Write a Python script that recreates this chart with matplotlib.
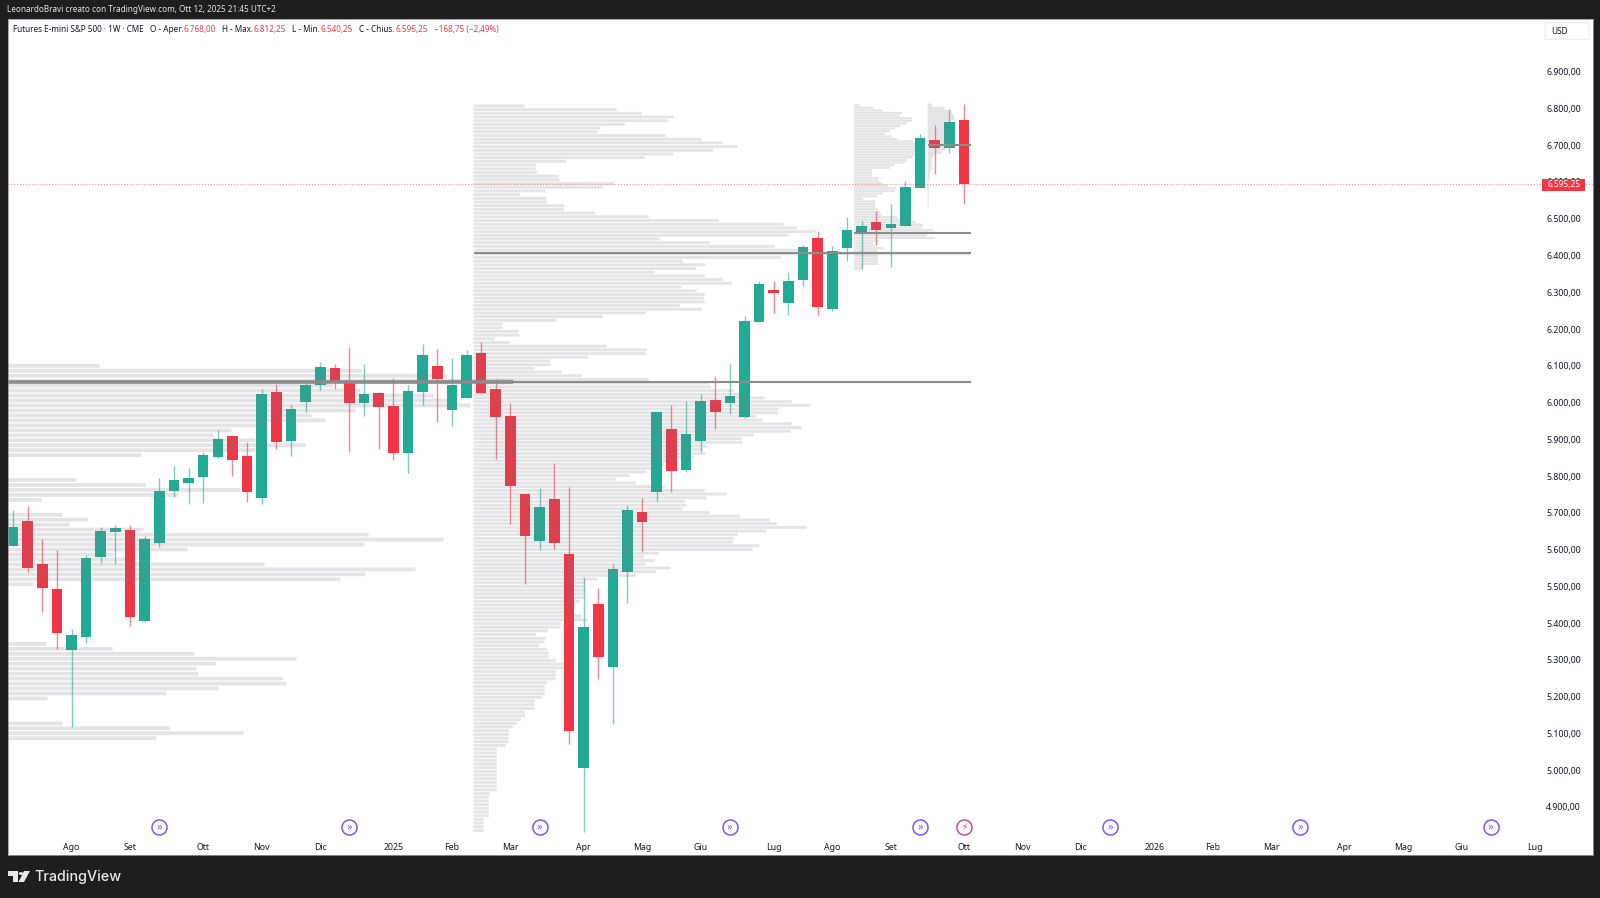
import numpy as np
import matplotlib
matplotlib.use("Agg")
import matplotlib.pyplot as plt
from matplotlib.patches import Polygon, Rectangle, Circle, FancyBboxPatch
from matplotlib.ticker import FuncFormatter

plt.rcParams['font.family'] = ['Noto Sans', 'DejaVu Sans']

# weekly candles
opens = [5610, 5679, 5562, 5494, 5326, 5361, 5580, 5649, 5654, 5407, 5619, 5760, 5781, 5798, 5853, 5908, 5855,
         5739, 6028, 5896, 6002, 6048, 6093, 6054, 5999, 6027, 5991, 5862, 6029, 6099, 5980, 6013, 6136, 6038,
         5964, 5751, 5623, 5738, 5588, 5005, 5451, 5280, 5539, 5703, 5758, 5928, 5817, 5896, 6007, 5999, 5960,
         6220, 6306, 6270, 6333, 6447, 6254, 6421, 6462, 6491, 6476, 6480, 6585, 6714, 6693, 6768]
highs = [5707, 5718, 5628, 5599, 5383, 5584, 5662, 5666, 5668, 5638, 5795, 5828, 5821, 5866, 5925, 5913, 5892,
         6038, 6050, 5992, 6052, 6109, 6104, 6150, 6105, 6030, 6066, 6048, 6159, 6146, 6120, 6143, 6165, 6063,
         5998, 5755, 5768, 5836, 5770, 5525, 5495, 5561, 5722, 5739, 5974, 5993, 6005, 6023, 6072, 6106, 6236,
         6330, 6332, 6356, 6428, 6466, 6425, 6505, 6494, 6522, 6540, 6604, 6730, 6755, 6798, 6812.25]
lows = [5610, 5540, 5431, 5330, 5118, 5346, 5564, 5560, 5392, 5404, 5608, 5744, 5723, 5726, 5848, 5800, 5730,
        5723, 5875, 5854, 5975, 6035, 6038, 5866, 5964, 5873, 5845, 5809, 5993, 5948, 5935, 6013, 6025, 5846,
        5670, 5507, 5598, 5602, 5072, 4831, 5249, 5126, 5454, 5593, 5733, 5756, 5812, 5866, 5927, 5968, 5957,
        6220, 6244, 6239, 6318, 6239, 6250, 6385, 6362, 6428, 6369, 6480, 6585, 6622, 6678, 6540.25]
closes = [5662, 5550, 5496, 5373, 5367, 5576, 5650, 5658, 5417, 5628, 5760, 5789, 5796, 5856, 5902, 5844, 5757,
          6022, 5893, 5983, 6049, 6098, 6052, 5999, 6024, 5987, 5863, 6032, 6130, 6064, 6048, 6130, 6025, 5960,
          5774, 5637, 5717, 5619, 5106, 5389, 5309, 5547, 5707, 5675, 5973, 5814, 5914, 6005, 5975, 6017, 6221,
          6322, 6297, 6332, 6423, 6261, 6411, 6469, 6480, 6470, 6487, 6586, 6719, 6693, 6762, 6595.25]

# volume profiles, top row first
vol_a = [92, 354, 440, 506, 326, 353, 426, 443, 463, 348, 304, 318, 259, 224, 206, 248, 298, 248, 134,
         0, 0, 0, 0, 69, 138, 233, 171, 34, 0, 0,
         55, 80, 62, 136, 361, 436, 357, 180, 106, 126, 257, 408, 358, 333, 26,
         0, 0, 0, 0, 0, 0, 0, 0, 0, 0, 0,
         39, 105, 187, 289, 208, 189, 191, 275, 279, 211, 159, 40, 0, 0, 0, 0, 55, 163, 236, 149]
vol_b = [51, 143, 168, 200, 194, 151, 127, 124, 192, 228, 249, 264, 240, 200, 171, 93, 62, 62, 63, 85, 86, 140,
         129, 72, 46, 73, 73, 90, 90, 121, 175, 245, 310, 323, 342, 315, 186, 236, 301, 330, 497, 307, 209, 232,
         222, 181, 231, 249, 258, 208, 223, 231, 230, 231, 206, 228, 172, 129, 83, 29, 29, 45, 46, 21, 36, 133,
         173, 172, 114, 77, 77, 61, 88, 108, 175, 236, 237, 260, 273, 291, 318, 337, 305, 304, 283, 289, 318,
         328, 317, 280, 268, 269, 233, 229, 232, 221, 200, 190, 180, 173, 156, 142, 162, 191, 231,
         253, 233, 211, 213, 209, 236, 266, 296, 303, 333, 293, 264, 260, 259, 286, 279, 185, 170, 181, 172, 197,
         182, 162, 124, 112, 111, 112, 111, 110, 106, 101, 96, 96, 108, 114, 87, 87, 74, 62, 72, 71, 65, 73, 75,
         75, 82, 90, 90, 82, 82, 82, 73, 71, 71, 71, 68, 61, 61, 61, 51, 51, 47, 43, 39, 35, 35, 35, 35, 32,
         23, 23, 23, 23, 23, 23, 23, 23, 23, 23, 23, 23, 16, 15, 15, 15, 15, 15, 15, 10, 10, 10, 10]
vol_c = [6, 19, 29, 48, 46, 58, 58, 53, 46, 41, 36, 31, 38, 43, 59, 64, 61, 61, 61, 61, 58, 53, 51, 41, 36, 18, 18,
         18, 24, 25, 29, 34, 42, 41, 29, 23, 9, 21, 21, 21, 24, 26, 28, 43, 58, 61, 69, 68, 79, 76, 73, 81, 24,
         19, 21, 29, 23, 23, 24, 24, 24, 24, 9, 8]
vol_d = [4, 17, 24, 26, 27, 24, 22, 22, 22, 22, 24, 23, 28, 19, 14, 6, 4, 4, 4, 4, 3, 2, 2, 1, 1, 1, 1, 1, 1, 1, 1]

# price span of each profile, and the bar where it starts
span_a = (6100, 5087)
span_b = (6807, 4836)
span_c = (6809, 6363)
span_d = (6809, 6537)
poc_a, poc_b, poc_c, poc_d = 6057, 6406, 6461, 6700

y_ticks = list(range(4900, 7000, 100))
month_idx = [4, 8, 13, 17, 21, 26, 30, 34, 39, 43, 47, 52, 56, 60, 65, 69, 73, 78, 82, 86, 91, 95, 99, 104]
month_lbl = ['Ago', 'Set', 'Ott', 'Nov', 'Dic', '2025', 'Feb', 'Mar', 'Apr', 'Mag', 'Giu', 'Lug', 'Ago', 'Set',
             'Ott', 'Nov', 'Dic', '2026', 'Feb', 'Mar', 'Apr', 'Mag', 'Giu', 'Lug']
event_idx = [10, 23, 36, 49, 62, 75, 88, 101]
last_close = 6595.25

GREEN = '#22AB94'
RED = '#F23645'
BG = '#1E1E1E'
INK = '#131722'
PX = 14.63  # pixels per bar

W, H = 1600, 898
fig = plt.figure(figsize=(W / 100, H / 100), dpi=100, facecolor=BG)


def fx(x):
    return x / W


def fy(y):
    return 1 - y / H


ax = fig.add_axes([fx(7.5), fy(855), (1592.5 - 7.5) / W, (855 - 19) / H], facecolor='white')
x_left = (7.5 - 13) / PX
x_right = (1592.5 - 13) / PX
ax.set_xlim(x_left, x_right)
ax.set_ylim(4769.2, 7043.4)

# candles
xs = np.arange(len(opens))
o = np.array(opens)
c = np.array(closes)
cols = [GREEN if b >= a else RED for a, b in zip(opens, closes)]
ax.vlines(xs, lows, highs, colors=cols, linewidth=1.0, alpha=0.6, zorder=2)
ax.bar(xs, np.abs(c - o), bottom=np.minimum(o, c), width=10.6 / PX, color=cols, linewidth=0, zorder=2.1)


def profile(vols, span, start, thick):
    v = np.array(vols, dtype=float) / PX
    prices = np.linspace(span[0], span[1], len(vols))
    step = abs(prices[1] - prices[0])
    bars = ax.barh(prices, v, left=start, height=step * thick, color='#787B86', alpha=0.2, linewidth=0, zorder=3)
    for b in bars:
        b.set_snap(False)


profile(vol_a, span_a, x_left, 0.76)
profile(vol_b, span_b, 31.49, 0.78)
profile(vol_c, span_c, 57.49, 0.85)
profile(vol_d, span_d, 62.52, 1.0)

# point of control lines
poc_col = '#8C8C8C'
ax.hlines(poc_a, x_left, 34.18, colors='#8A8A8A', linewidth=2.6, zorder=4)
ax.hlines(poc_a, x_left, 65.5, colors=poc_col, linewidth=1.5, zorder=4)
ax.hlines(poc_b, 31.49, 65.5, colors=poc_col, linewidth=1.5, zorder=4)
ax.hlines(poc_c, 57.49, 65.5, colors=poc_col, linewidth=1.5, zorder=4)
ax.hlines(poc_d, 62.52, 65.5, colors=poc_col, linewidth=1.5, zorder=4)

# last price line
ax.axhline(last_close, color=RED, linewidth=0.8, linestyle=(0, (1, 1.6)), alpha=0.55, zorder=5)

for s in ax.spines.values():
    s.set_color('#9A9A9A')
    s.set_linewidth(0.6)

ax.yaxis.tick_right()
ax.set_yticks(y_ticks)
ax.yaxis.set_major_formatter(FuncFormatter(lambda v, p: f"{int(v):,}".replace(',', '.') + ',00'))
ax.tick_params(axis='y', length=0, pad=-8.3, labelsize=6.3, labelcolor=INK)
for l in ax.get_yticklabels():
    l.set_ha('right')
ax.set_xticks(month_idx)
ax.set_xticklabels(month_lbl)
ax.tick_params(axis='x', length=0, pad=-9, labelsize=6.3, labelcolor=INK)
for l in ax.get_xticklabels():
    if l.get_text() in ('2025', '2026'):
        l.set_fontweight('bold')

# event icons
trans = ax.get_xaxis_transform()
icon_y = (855 - 827) / (855 - 19)
ax.scatter(event_idx, [icon_y] * len(event_idx), transform=trans, s=118, facecolor='white', edgecolor='#7E57FF',
           linewidth=1.1, zorder=6, clip_on=False)
for e in event_idx:
    ax.text(e, icon_y, '»', transform=trans, color='#7E57FF', fontsize=8, ha='center', va='center', zorder=7)
ax.scatter([65], [icon_y], transform=trans, s=118, facecolor='white', edgecolor='#B5509C', linewidth=1.1, zorder=8)
ax.text(65, icon_y, '⚡', transform=trans, color='#C2418A', fontsize=6.5, ha='center', va='center', zorder=9,
        family='DejaVu Sans')

# header strip
fig.text(fx(7), fy(10), 'LeonardoBravi creato con TradingView.com, Ott 12, 2025 21:45 UTC+2', color='#E6E6E6',
         fontsize=5.85, va='center')
legend_parts = [(12.7, 'Futures E-mini S&P 500 · 1W · CME', INK), (150, 'O - Aper.', INK), (184, '6.768,00', RED),
                (221.7, 'H - Max.', INK), (254, '6.812,25', RED), (291.7, 'L - Min.', INK), (320.7, '6.540,25', RED),
                (358.7, 'C - Chius.', INK), (395, '6.595,25', RED), (434, '−168,75 (−2,49%)', RED)]
for px, txt, col in legend_parts:
    fig.text(fx(px), fy(29.5), txt, color=col, fontsize=5.85, va='center', zorder=10)

# USD box
fig.add_artist(FancyBboxPatch((fx(1546), fy(39)), 42 / W, 16 / H, boxstyle='round,pad=0.0005', transform=fig.transFigure,
                              facecolor='white', edgecolor='#EDEDED', linewidth=0.8, zorder=10))
fig.text(fx(1551), fy(31), 'USD', color=INK, fontsize=6.0, va='center', zorder=11)

# last price tag
fig.add_artist(Rectangle((fx(1542), fy(191)), 43 / W, 12 / H, transform=fig.transFigure, facecolor=RED, linewidth=0,
                         zorder=10))
fig.text(fx(1581), fy(185), '6.595,25', color='white', fontsize=6.0, fontweight='bold', ha='right', va='center', zorder=11)

# logo
logo = '#E8E8E8'
for pts in ([(8, 871), (18, 871), (18, 882), (13, 882), (13, 876), (8, 876)],
            [(24, 871), (30, 871), (24, 882), (18.5, 882)]):
    fig.add_artist(Polygon([(fx(a), fy(b)) for a, b in pts], closed=True, transform=fig.transFigure, facecolor=logo,
                           linewidth=0))
fig.add_artist(Circle((fx(21), fy(873.5)), 2.4 / W, transform=fig.transFigure, facecolor=logo, linewidth=0))
fig.text(fx(34.5), fy(877), 'TradingView', color=logo, fontsize=10.3, family='Inter', fontweight='medium', va='center')

fig.savefig('out.png', dpi=100, facecolor=BG)
